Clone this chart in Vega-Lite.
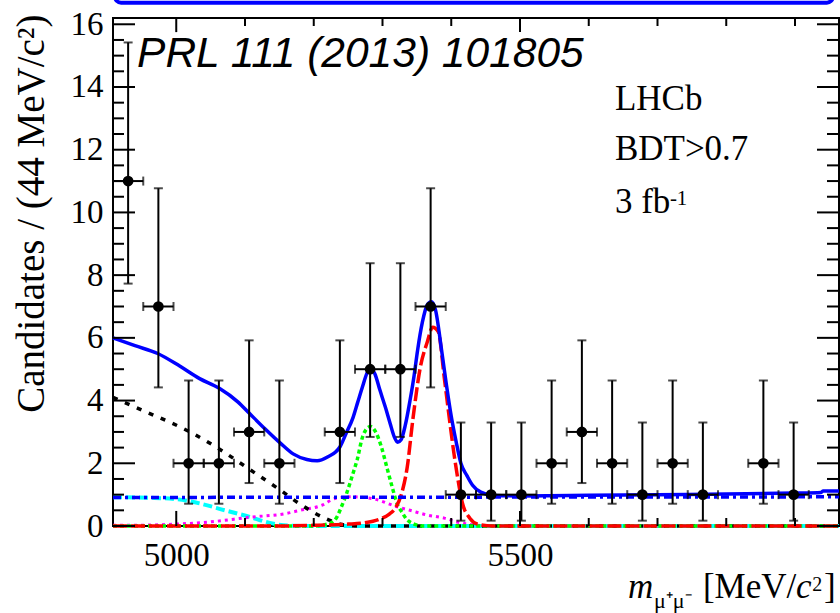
{
  "$schema": "https://vega.github.io/schema/vega-lite/v6.json",
  "width": 726,
  "height": 508,
  "autosize": "none",
  "padding": {"left": 113, "top": 18, "right": 1, "bottom": 87},
  "background": "white",
  "config": {
    "view": {"stroke": "black", "strokeWidth": 2},
    "axis": {"grid": false, "domain": false, "labelColor": "black", "labelFont": "Liberation Serif", "labelFontSize": 33, "labelOverlap": false, "labelFlush": false, "labelBound": false}
  },
  "datasets": {
    "one": [{}],
    "xmajor": [{"t": 5000}, {"t": 5500}],
    "xminor": [{"t": 5100}, {"t": 5200}, {"t": 5300}, {"t": 5400}, {"t": 5600}, {"t": 5700}, {"t": 5800}, {"t": 5900}],
    "ymajor": [{"t": 0}, {"t": 2}, {"t": 4}, {"t": 6}, {"t": 8}, {"t": 10}, {"t": 12}, {"t": 14}, {"t": 16}],
    "yminor": [{"t": 0.5}, {"t": 1}, {"t": 1.5}, {"t": 2.5}, {"t": 3}, {"t": 3.5}, {"t": 4.5}, {"t": 5}, {"t": 5.5}, {"t": 6.5}, {"t": 7}, {"t": 7.5}, {"t": 8.5}, {"t": 9}, {"t": 9.5}, {"t": 10.5}, {"t": 11}, {"t": 11.5}, {"t": 12.5}, {"t": 13}, {"t": 13.5}, {"t": 14.5}, {"t": 15}, {"t": 15.5}],
    "pts": [
      {"m": 4930, "m0": 4908, "m1": 4952, "n": 11, "lo": 7.73, "hi": 15.42},
      {"m": 4974, "m0": 4952, "m1": 4996, "n": 7, "lo": 4.42, "hi": 10.77},
      {"m": 5018, "m0": 4996, "m1": 5040, "n": 2, "lo": 0.71, "hi": 4.64},
      {"m": 5062, "m0": 5040, "m1": 5084, "n": 2, "lo": 0.71, "hi": 4.64},
      {"m": 5106, "m0": 5084, "m1": 5128, "n": 3, "lo": 1.37, "hi": 5.92},
      {"m": 5150, "m0": 5128, "m1": 5172, "n": 2, "lo": 0.71, "hi": 4.64},
      {"m": 5238, "m0": 5216, "m1": 5260, "n": 3, "lo": 1.37, "hi": 5.92},
      {"m": 5282, "m0": 5260, "m1": 5304, "n": 5, "lo": 2.84, "hi": 8.38},
      {"m": 5326, "m0": 5304, "m1": 5348, "n": 5, "lo": 2.84, "hi": 8.38},
      {"m": 5370, "m0": 5348, "m1": 5392, "n": 7, "lo": 4.42, "hi": 10.77},
      {"m": 5414, "m0": 5392, "m1": 5436, "n": 1, "lo": 0.17, "hi": 3.30},
      {"m": 5458, "m0": 5436, "m1": 5480, "n": 1, "lo": 0.17, "hi": 3.30},
      {"m": 5502, "m0": 5480, "m1": 5524, "n": 1, "lo": 0.17, "hi": 3.30},
      {"m": 5546, "m0": 5524, "m1": 5568, "n": 2, "lo": 0.71, "hi": 4.64},
      {"m": 5590, "m0": 5568, "m1": 5612, "n": 3, "lo": 1.37, "hi": 5.92},
      {"m": 5634, "m0": 5612, "m1": 5656, "n": 2, "lo": 0.71, "hi": 4.64},
      {"m": 5678, "m0": 5656, "m1": 5700, "n": 1, "lo": 0.17, "hi": 3.30},
      {"m": 5722, "m0": 5700, "m1": 5744, "n": 2, "lo": 0.71, "hi": 4.64},
      {"m": 5766, "m0": 5744, "m1": 5788, "n": 1, "lo": 0.17, "hi": 3.30},
      {"m": 5854, "m0": 5832, "m1": 5876, "n": 2, "lo": 0.71, "hi": 4.64},
      {"m": 5898, "m0": 5876, "m1": 5920, "n": 1, "lo": 0.17, "hi": 3.30}
    ],
    "blue": [
      {"m": 4908, "v": 6.0}, {"m": 4940, "v": 5.75}, {"m": 4973, "v": 5.5}, {"m": 5005, "v": 5.1}, {"m": 5034, "v": 4.7},
      {"m": 5062, "v": 4.4}, {"m": 5090, "v": 3.95}, {"m": 5106, "v": 3.6}, {"m": 5129, "v": 3.1}, {"m": 5151, "v": 2.65},
      {"m": 5170, "v": 2.3}, {"m": 5190, "v": 2.12}, {"m": 5205, "v": 2.08}, {"m": 5220, "v": 2.2}, {"m": 5238, "v": 2.52},
      {"m": 5247, "v": 2.95}, {"m": 5257, "v": 3.45}, {"m": 5264, "v": 3.95}, {"m": 5271, "v": 4.45}, {"m": 5277, "v": 4.85},
      {"m": 5282, "v": 5.03}, {"m": 5289, "v": 4.85}, {"m": 5296, "v": 4.35}, {"m": 5304, "v": 3.8}, {"m": 5311, "v": 3.28},
      {"m": 5317, "v": 2.85}, {"m": 5322, "v": 2.67}, {"m": 5327, "v": 2.75}, {"m": 5333, "v": 3.2}, {"m": 5340, "v": 4.0},
      {"m": 5346, "v": 4.8}, {"m": 5351, "v": 5.6}, {"m": 5358, "v": 6.5}, {"m": 5365, "v": 7.05}, {"m": 5371, "v": 7.15},
      {"m": 5377, "v": 6.9}, {"m": 5386, "v": 5.6}, {"m": 5393, "v": 4.5}, {"m": 5400, "v": 3.5}, {"m": 5407, "v": 2.7},
      {"m": 5414, "v": 2.0}, {"m": 5423, "v": 1.6}, {"m": 5431, "v": 1.3}, {"m": 5443, "v": 1.08}, {"m": 5462, "v": 0.97},
      {"m": 5500, "v": 0.96}, {"m": 5600, "v": 0.98}, {"m": 5700, "v": 1.0}, {"m": 5800, "v": 1.02}, {"m": 5900, "v": 1.05},
      {"m": 5938, "v": 1.07}, {"m": 5941, "v": 1.12}, {"m": 5964, "v": 1.12}
    ],
    "bluedd": [
      {"m": 4908, "v": 0.91}, {"m": 5400, "v": 0.92}, {"m": 5964, "v": 0.93}
    ],
    "black": [
      {"m": 4908, "v": 4.1}, {"m": 4955, "v": 3.65}, {"m": 5020, "v": 3.0}, {"m": 5063, "v": 2.45}, {"m": 5107, "v": 1.8},
      {"m": 5151, "v": 1.15}, {"m": 5180, "v": 0.7}, {"m": 5219, "v": 0.22}, {"m": 5245, "v": 0.03}, {"m": 5270, "v": 0.0},
      {"m": 5964, "v": 0.0}
    ],
    "cyan": [
      {"m": 4908, "v": 0.92}, {"m": 4962, "v": 0.9}, {"m": 4998, "v": 0.86}, {"m": 5034, "v": 0.72}, {"m": 5071, "v": 0.5},
      {"m": 5107, "v": 0.29}, {"m": 5136, "v": 0.1}, {"m": 5165, "v": 0.01}, {"m": 5200, "v": 0.0}, {"m": 5964, "v": 0.0}
    ],
    "mag": [
      {"m": 4908, "v": 0.02}, {"m": 4960, "v": 0.03}, {"m": 5000, "v": 0.06}, {"m": 5049, "v": 0.13}, {"m": 5107, "v": 0.28},
      {"m": 5160, "v": 0.4}, {"m": 5180, "v": 0.5}, {"m": 5213, "v": 0.67}, {"m": 5231, "v": 0.88}, {"m": 5257, "v": 0.93},
      {"m": 5290, "v": 0.85}, {"m": 5320, "v": 0.62}, {"m": 5340, "v": 0.5}, {"m": 5365, "v": 0.35}, {"m": 5390, "v": 0.25},
      {"m": 5410, "v": 0.12}, {"m": 5430, "v": 0.04}, {"m": 5460, "v": 0.0}, {"m": 5964, "v": 0.0}
    ],
    "green": [
      {"m": 4908, "v": 0.0}, {"m": 5200, "v": 0.0}, {"m": 5225, "v": 0.1}, {"m": 5234, "v": 0.3}, {"m": 5240, "v": 0.6},
      {"m": 5248, "v": 1.05}, {"m": 5256, "v": 1.6}, {"m": 5263, "v": 2.1}, {"m": 5271, "v": 2.84}, {"m": 5277, "v": 3.1},
      {"m": 5283, "v": 3.17}, {"m": 5290, "v": 3.0}, {"m": 5298, "v": 2.55}, {"m": 5306, "v": 1.9}, {"m": 5314, "v": 1.25},
      {"m": 5322, "v": 0.67}, {"m": 5328, "v": 0.45}, {"m": 5335, "v": 0.22}, {"m": 5345, "v": 0.07}, {"m": 5360, "v": 0.0},
      {"m": 5964, "v": 0.0}
    ],
    "red": [
      {"m": 4908, "v": 0.0}, {"m": 5150, "v": 0.0}, {"m": 5200, "v": 0.02}, {"m": 5250, "v": 0.06}, {"m": 5272, "v": 0.1},
      {"m": 5296, "v": 0.22}, {"m": 5310, "v": 0.38}, {"m": 5318, "v": 0.55}, {"m": 5328, "v": 1.05}, {"m": 5336, "v": 1.88},
      {"m": 5344, "v": 3.37}, {"m": 5355, "v": 5.06}, {"m": 5365, "v": 5.86}, {"m": 5373, "v": 6.34}, {"m": 5381, "v": 6.2},
      {"m": 5390, "v": 4.7}, {"m": 5398, "v": 3.3}, {"m": 5404, "v": 2.3}, {"m": 5410, "v": 1.45}, {"m": 5416, "v": 0.75},
      {"m": 5427, "v": 0.25}, {"m": 5440, "v": 0.05}, {"m": 5460, "v": 0.0}, {"m": 5964, "v": 0.0}
    ]
  },
  "layer": [
    {
      "data": {"name": "cyan"},
      "mark": {"type": "line", "color": "#00ffff", "strokeWidth": 4, "strokeDash": [9, 4], "interpolate": "monotone"},
      "encoding": {
        "x": {"field": "m", "type": "quantitative", "scale": {"domain": [4908, 5964], "nice": false, "zero": false},
              "axis": {"orient": "bottom", "values": [5000, 5500], "format": "d", "ticks": false, "labelPadding": 13, "title": null}},
        "y": {"field": "v", "type": "quantitative", "scale": {"domain": [0, 16.2], "nice": false, "zero": false},
              "axis": {"orient": "left", "values": [0, 2, 4, 6, 8, 10, 12, 14, 16], "format": "d", "ticks": false, "labelPadding": 10,
                       "title": "Candidates / (44 MeV/c²)", "titleFont": "Liberation Serif", "titleFontSize": 39, "titleFontWeight": "normal", "titleColor": "black",
                       "titleAngle": 270, "titleX": -70, "titleY": -4, "titleAlign": "right", "titleBaseline": "alphabetic"}}
      }
    },
    {
      "data": {"name": "mag"},
      "mark": {"type": "line", "color": "#ff00ff", "strokeWidth": 3, "strokeDash": [3, 4], "interpolate": "monotone"},
      "encoding": {
        "x": {"field": "m", "type": "quantitative", "scale": {"domain": [4908, 5964], "nice": false, "zero": false}, "axis": null},
        "y": {"field": "v", "type": "quantitative", "scale": {"domain": [0, 16.2], "nice": false, "zero": false}, "axis": null}
      }
    },
    {
      "data": {"name": "black"},
      "mark": {"type": "line", "color": "black", "strokeWidth": 3.5, "strokeDash": [5, 8], "interpolate": "monotone"},
      "encoding": {
        "x": {"field": "m", "type": "quantitative", "scale": {"domain": [4908, 5964], "nice": false, "zero": false}, "axis": null},
        "y": {"field": "v", "type": "quantitative", "scale": {"domain": [0, 16.2], "nice": false, "zero": false}, "axis": null}
      }
    },
    {
      "data": {"name": "green"},
      "mark": {"type": "line", "color": "#00ff00", "strokeWidth": 3.5, "strokeDash": [4, 3], "interpolate": "monotone"},
      "encoding": {
        "x": {"field": "m", "type": "quantitative", "scale": {"domain": [4908, 5964], "nice": false, "zero": false}, "axis": null},
        "y": {"field": "v", "type": "quantitative", "scale": {"domain": [0, 16.2], "nice": false, "zero": false}, "axis": null}
      }
    },
    {
      "data": {"name": "red"},
      "mark": {"type": "line", "color": "#ff0000", "strokeWidth": 3.5, "strokeDash": [14, 4], "interpolate": "monotone"},
      "encoding": {
        "x": {"field": "m", "type": "quantitative", "scale": {"domain": [4908, 5964], "nice": false, "zero": false}, "axis": null},
        "y": {"field": "v", "type": "quantitative", "scale": {"domain": [0, 16.2], "nice": false, "zero": false}, "axis": null}
      }
    },
    {
      "data": {"name": "bluedd"},
      "mark": {"type": "line", "color": "#0000ff", "strokeWidth": 3.5, "strokeDash": [8, 4, 3, 4]},
      "encoding": {
        "x": {"field": "m", "type": "quantitative", "scale": {"domain": [4908, 5964], "nice": false, "zero": false}, "axis": null},
        "y": {"field": "v", "type": "quantitative", "scale": {"domain": [0, 16.2], "nice": false, "zero": false}, "axis": null}
      }
    },
    {
      "data": {"name": "blue"},
      "mark": {"type": "line", "color": "#0000ff", "strokeWidth": 3.5, "interpolate": "monotone"},
      "encoding": {
        "x": {"field": "m", "type": "quantitative", "scale": {"domain": [4908, 5964], "nice": false, "zero": false}, "axis": null},
        "y": {"field": "v", "type": "quantitative", "scale": {"domain": [0, 16.2], "nice": false, "zero": false}, "axis": null}
      }
    },
    {
      "data": {"name": "xmajor"},
      "mark": {"type": "rule", "color": "black", "strokeWidth": 2},
      "encoding": {
        "x": {"field": "t", "type": "quantitative", "scale": {"domain": [4908, 5964], "nice": false, "zero": false}, "axis": null},
        "y": {"datum": 0, "type": "quantitative", "scale": {"domain": [0, 16.2], "nice": false, "zero": false}, "axis": null},
        "y2": {"datum": 0.48}
      }
    },
    {
      "data": {"name": "xminor"},
      "mark": {"type": "rule", "color": "black", "strokeWidth": 2},
      "encoding": {
        "x": {"field": "t", "type": "quantitative", "scale": {"domain": [4908, 5964], "nice": false, "zero": false}, "axis": null},
        "y": {"datum": 0, "type": "quantitative", "scale": {"domain": [0, 16.2], "nice": false, "zero": false}, "axis": null},
        "y2": {"datum": 0.255}
      }
    },
    {
      "data": {"name": "xmajor"},
      "mark": {"type": "rule", "color": "black", "strokeWidth": 2},
      "encoding": {
        "x": {"field": "t", "type": "quantitative", "scale": {"domain": [4908, 5964], "nice": false, "zero": false}, "axis": null},
        "y": {"datum": 16.2, "type": "quantitative", "scale": {"domain": [0, 16.2], "nice": false, "zero": false}, "axis": null},
        "y2": {"datum": 15.75}
      }
    },
    {
      "data": {"name": "xminor"},
      "mark": {"type": "rule", "color": "black", "strokeWidth": 2},
      "encoding": {
        "x": {"field": "t", "type": "quantitative", "scale": {"domain": [4908, 5964], "nice": false, "zero": false}, "axis": null},
        "y": {"datum": 16.2, "type": "quantitative", "scale": {"domain": [0, 16.2], "nice": false, "zero": false}, "axis": null},
        "y2": {"datum": 15.945}
      }
    },
    {
      "data": {"name": "ymajor"},
      "mark": {"type": "rule", "color": "black", "strokeWidth": 2},
      "encoding": {
        "x": {"datum": 4908, "type": "quantitative", "scale": {"domain": [4908, 5964], "nice": false, "zero": false}, "axis": null},
        "x2": {"datum": 4940},
        "y": {"field": "t", "type": "quantitative", "scale": {"domain": [0, 16.2], "nice": false, "zero": false}, "axis": null}
      }
    },
    {
      "data": {"name": "yminor"},
      "mark": {"type": "rule", "color": "black", "strokeWidth": 2},
      "encoding": {
        "x": {"datum": 4908, "type": "quantitative", "scale": {"domain": [4908, 5964], "nice": false, "zero": false}, "axis": null},
        "x2": {"datum": 4924},
        "y": {"field": "t", "type": "quantitative", "scale": {"domain": [0, 16.2], "nice": false, "zero": false}, "axis": null}
      }
    },
    {
      "data": {"name": "ymajor"},
      "mark": {"type": "rule", "color": "black", "strokeWidth": 2},
      "encoding": {
        "x": {"datum": 5964, "type": "quantitative", "scale": {"domain": [4908, 5964], "nice": false, "zero": false}, "axis": null},
        "x2": {"datum": 5932},
        "y": {"field": "t", "type": "quantitative", "scale": {"domain": [0, 16.2], "nice": false, "zero": false}, "axis": null}
      }
    },
    {
      "data": {"name": "yminor"},
      "mark": {"type": "rule", "color": "black", "strokeWidth": 2},
      "encoding": {
        "x": {"datum": 5964, "type": "quantitative", "scale": {"domain": [4908, 5964], "nice": false, "zero": false}, "axis": null},
        "x2": {"datum": 5946.5},
        "y": {"field": "t", "type": "quantitative", "scale": {"domain": [0, 16.2], "nice": false, "zero": false}, "axis": null}
      }
    },
    {
      "data": {"name": "pts"},
      "mark": {"type": "rule", "color": "black", "strokeWidth": 2},
      "encoding": {
        "x": {"field": "m", "type": "quantitative", "scale": {"domain": [4908, 5964], "nice": false, "zero": false}, "axis": null},
        "y": {"field": "lo", "type": "quantitative", "scale": {"domain": [0, 16.2], "nice": false, "zero": false}, "axis": null},
        "y2": {"field": "hi"}
      }
    },
    {
      "data": {"name": "pts"},
      "mark": {"type": "rule", "color": "black", "strokeWidth": 2},
      "encoding": {
        "x": {"field": "m0", "type": "quantitative", "scale": {"domain": [4908, 5964], "nice": false, "zero": false}, "axis": null},
        "x2": {"field": "m1"},
        "y": {"field": "n", "type": "quantitative", "scale": {"domain": [0, 16.2], "nice": false, "zero": false}, "axis": null}
      }
    },
    {
      "data": {"name": "pts"},
      "mark": {"type": "tick", "orient": "horizontal", "color": "black", "size": 9, "thickness": 2},
      "encoding": {
        "x": {"field": "m", "type": "quantitative", "scale": {"domain": [4908, 5964], "nice": false, "zero": false}, "axis": null},
        "y": {"field": "hi", "type": "quantitative", "scale": {"domain": [0, 16.2], "nice": false, "zero": false}, "axis": null}
      }
    },
    {
      "data": {"name": "pts"},
      "mark": {"type": "tick", "orient": "horizontal", "color": "black", "size": 9, "thickness": 2},
      "encoding": {
        "x": {"field": "m", "type": "quantitative", "scale": {"domain": [4908, 5964], "nice": false, "zero": false}, "axis": null},
        "y": {"field": "lo", "type": "quantitative", "scale": {"domain": [0, 16.2], "nice": false, "zero": false}, "axis": null}
      }
    },
    {
      "data": {"name": "pts"},
      "mark": {"type": "tick", "orient": "vertical", "color": "black", "size": 9, "thickness": 2},
      "encoding": {
        "x": {"field": "m0", "type": "quantitative", "scale": {"domain": [4908, 5964], "nice": false, "zero": false}, "axis": null},
        "y": {"field": "n", "type": "quantitative", "scale": {"domain": [0, 16.2], "nice": false, "zero": false}, "axis": null}
      }
    },
    {
      "data": {"name": "pts"},
      "mark": {"type": "tick", "orient": "vertical", "color": "black", "size": 9, "thickness": 2},
      "encoding": {
        "x": {"field": "m1", "type": "quantitative", "scale": {"domain": [4908, 5964], "nice": false, "zero": false}, "axis": null},
        "y": {"field": "n", "type": "quantitative", "scale": {"domain": [0, 16.2], "nice": false, "zero": false}, "axis": null}
      }
    },
    {
      "data": {"name": "pts"},
      "mark": {"type": "circle", "color": "black", "size": 115, "opacity": 1},
      "encoding": {
        "x": {"field": "m", "type": "quantitative", "scale": {"domain": [4908, 5964], "nice": false, "zero": false}, "axis": null},
        "y": {"field": "n", "type": "quantitative", "scale": {"domain": [0, 16.2], "nice": false, "zero": false}, "axis": null}
      }
    },
    {
      "data": {"name": "one"},
      "mark": {"type": "rect", "fill": null, "fillOpacity": 0, "stroke": "#0000ff", "strokeWidth": 4, "cornerRadius": 6, "clip": false},
      "encoding": {
        "x": {"datum": 4911, "type": "quantitative", "scale": {"domain": [4908, 5964], "nice": false, "zero": false}, "axis": null},
        "x2": {"datum": 5955},
        "y": {"datum": 16.69, "type": "quantitative", "scale": {"domain": [0, 16.2], "nice": false, "zero": false}, "axis": null},
        "y2": {"datum": 17.5}
      }
    },
    {
      "data": {"name": "one"},
      "mark": {"type": "text", "text": "PRL 111 (2013) 101805", "font": "Liberation Sans", "fontStyle": "italic", "fontSize": 42.5, "align": "left", "baseline": "alphabetic", "color": "black"},
      "encoding": {
        "x": {"datum": 4943, "type": "quantitative", "scale": {"domain": [4908, 5964], "nice": false, "zero": false}, "axis": null},
        "y": {"datum": 14.64, "type": "quantitative", "scale": {"domain": [0, 16.2], "nice": false, "zero": false}, "axis": null}
      }
    },
    {
      "data": {"name": "one"},
      "mark": {"type": "text", "text": "LHCb", "font": "Liberation Serif", "fontSize": 35, "align": "left", "baseline": "alphabetic", "color": "black"},
      "encoding": {
        "x": {"datum": 5638, "type": "quantitative", "scale": {"domain": [4908, 5964], "nice": false, "zero": false}, "axis": null},
        "y": {"datum": 13.27, "type": "quantitative", "scale": {"domain": [0, 16.2], "nice": false, "zero": false}, "axis": null}
      }
    },
    {
      "data": {"name": "one"},
      "mark": {"type": "text", "text": "BDT>0.7", "font": "Liberation Serif", "fontSize": 35, "align": "left", "baseline": "alphabetic", "color": "black"},
      "encoding": {
        "x": {"datum": 5638, "type": "quantitative", "scale": {"domain": [4908, 5964], "nice": false, "zero": false}, "axis": null},
        "y": {"datum": 11.67, "type": "quantitative", "scale": {"domain": [0, 16.2], "nice": false, "zero": false}, "axis": null}
      }
    },
    {
      "data": {"name": "one"},
      "mark": {"type": "text", "text": "3 fb", "font": "Liberation Serif", "fontSize": 35, "align": "left", "baseline": "alphabetic", "color": "black"},
      "encoding": {
        "x": {"datum": 5638, "type": "quantitative", "scale": {"domain": [4908, 5964], "nice": false, "zero": false}, "axis": null},
        "y": {"datum": 9.98, "type": "quantitative", "scale": {"domain": [0, 16.2], "nice": false, "zero": false}, "axis": null}
      }
    },
    {
      "data": {"name": "one"},
      "mark": {"type": "text", "text": "-1", "font": "Liberation Serif", "fontSize": 21, "align": "left", "baseline": "alphabetic", "color": "black"},
      "encoding": {
        "x": {"datum": 5718, "type": "quantitative", "scale": {"domain": [4908, 5964], "nice": false, "zero": false}, "axis": null},
        "y": {"datum": 10.24, "type": "quantitative", "scale": {"domain": [0, 16.2], "nice": false, "zero": false}, "axis": null}
      }
    },
    {
      "data": {"name": "one"},
      "mark": {"type": "text", "text": "m", "font": "Liberation Serif", "fontStyle": "italic", "fontSize": 35, "align": "left", "baseline": "alphabetic", "color": "black", "clip": false},
      "encoding": {
        "x": {"datum": 5657, "type": "quantitative", "scale": {"domain": [4908, 5964], "nice": false, "zero": false}, "axis": null},
        "y": {"datum": -2.296, "type": "quantitative", "scale": {"domain": [0, 16.2], "nice": false, "zero": false}, "axis": null}
      }
    },
    {
      "data": {"name": "one"},
      "mark": {"type": "text", "text": "μ⁺μ⁻", "font": "Liberation Serif", "fontSize": 22, "align": "left", "baseline": "alphabetic", "color": "black", "clip": false},
      "encoding": {
        "x": {"datum": 5695, "type": "quantitative", "scale": {"domain": [4908, 5964], "nice": false, "zero": false}, "axis": null},
        "y": {"datum": -2.6, "type": "quantitative", "scale": {"domain": [0, 16.2], "nice": false, "zero": false}, "axis": null}
      }
    },
    {
      "data": {"name": "one"},
      "mark": {"type": "text", "text": "[MeV/", "font": "Liberation Serif", "fontSize": 35, "align": "left", "baseline": "alphabetic", "color": "black", "clip": false},
      "encoding": {
        "x": {"datum": 5766, "type": "quantitative", "scale": {"domain": [4908, 5964], "nice": false, "zero": false}, "axis": null},
        "y": {"datum": -2.296, "type": "quantitative", "scale": {"domain": [0, 16.2], "nice": false, "zero": false}, "axis": null}
      }
    },
    {
      "data": {"name": "one"},
      "mark": {"type": "text", "text": "c", "font": "Liberation Serif", "fontStyle": "italic", "fontSize": 35, "align": "left", "baseline": "alphabetic", "color": "black", "clip": false},
      "encoding": {
        "x": {"datum": 5901.5, "type": "quantitative", "scale": {"domain": [4908, 5964], "nice": false, "zero": false}, "axis": null},
        "y": {"datum": -2.296, "type": "quantitative", "scale": {"domain": [0, 16.2], "nice": false, "zero": false}, "axis": null}
      }
    },
    {
      "data": {"name": "one"},
      "mark": {"type": "text", "text": "2", "font": "Liberation Serif", "fontSize": 20, "align": "left", "baseline": "alphabetic", "color": "black", "clip": false},
      "encoding": {
        "x": {"datum": 5925, "type": "quantitative", "scale": {"domain": [4908, 5964], "nice": false, "zero": false}, "axis": null},
        "y": {"datum": -2.07, "type": "quantitative", "scale": {"domain": [0, 16.2], "nice": false, "zero": false}, "axis": null}
      }
    },
    {
      "data": {"name": "one"},
      "mark": {"type": "text", "text": "]", "font": "Liberation Serif", "fontSize": 35, "align": "left", "baseline": "alphabetic", "color": "black", "clip": false},
      "encoding": {
        "x": {"datum": 5942, "type": "quantitative", "scale": {"domain": [4908, 5964], "nice": false, "zero": false}, "axis": null},
        "y": {"datum": -2.296, "type": "quantitative", "scale": {"domain": [0, 16.2], "nice": false, "zero": false}, "axis": null}
      }
    }
  ],
  "resolve": {"axis": {"x": "independent", "y": "independent"}}
}
